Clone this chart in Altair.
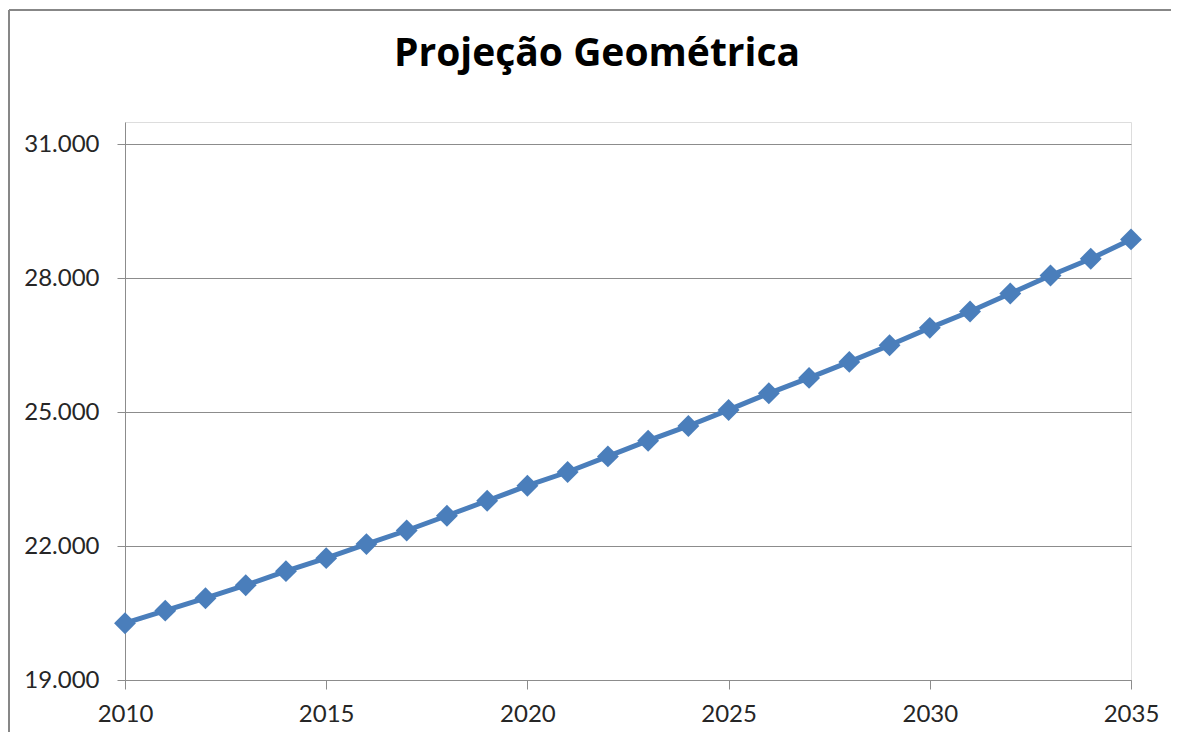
import altair as alt
import pandas as pd

years = [2010, 2011, 2012, 2013, 2014, 2015, 2016, 2017, 2018, 2019, 2020, 2021, 2022,
         2023, 2024, 2025, 2026, 2027, 2028, 2029, 2030, 2031, 2032, 2033, 2034, 2035]
population = [20272, 20554, 20833, 21124, 21438, 21730, 22044, 22349, 22679, 23015,
              23352, 23659, 24009, 24361, 24691, 25050, 25422, 25768, 26126, 26499,
              26889, 27255, 27659, 28062, 28437, 28870]
y_ticks = [19000, 22000, 25000, 28000, 31000]
x_ticks = [2010, 2015, 2020, 2025, 2030, 2035]
title_text = "Projeção Geométrica"

df = pd.DataFrame({"ano": years, "pop": population})

FONT = "Lato"
BLUE = "#4a7ebb"
GRID = "#8c8c8c"

x_enc = alt.X(
    "ano:Q",
    scale=alt.Scale(domain=[2010, 2035], nice=False, zero=False),
    axis=alt.Axis(
        values=x_ticks, format="d", title=None, grid=False, labelFlush=False,
        domainColor=GRID, tickColor=GRID, tickSize=9, labelPadding=13,
        labelFont=FONT, labelFontSize=24, labelColor="#262626",
    ),
)
y_enc = alt.Y(
    "pop:Q",
    scale=alt.Scale(domain=[19000, 31500], nice=False, zero=False),
    axis=alt.Axis(
        values=y_ticks, title=None, grid=True, gridColor=GRID, gridWidth=1.2,
        labelFlush=False,
        domainColor=GRID, tickColor=GRID, tickSize=8, labelPadding=18,
        labelExpr="replace(format(datum.value, ',.0f'), ',', '.')",
        labelFont=FONT, labelFontSize=24, labelColor="#262626",
    ),
)

line = alt.Chart(df).mark_line(color=BLUE, strokeWidth=5).encode(x=x_enc, y=y_enc)
points = alt.Chart(df).mark_point(
    shape="diamond", filled=True, color=BLUE, opacity=1, size=480
).encode(x="ano:Q", y="pop:Q")

frame_top = alt.Chart(df).mark_rule(color="#878787", strokeWidth=2).encode(
    x=alt.value(-116), x2=alt.value(1200), y=alt.value(-112)
)
frame_left = alt.Chart(df).mark_rule(color="#878787", strokeWidth=2).encode(
    x=alt.value(-116), y=alt.value(-112), y2=alt.value(700)
)

chart = (
    alt.layer(frame_top, frame_left, line, points)
    .properties(
        width=1006,
        height=558,
        autosize=alt.AutoSizeParams(type="none"),
        padding={"left": 117, "top": 114, "right": 40, "bottom": 52},
        title=alt.TitleParams(
            text=title_text, font="Open Sans", fontSize=39, fontWeight="bold",
            color="#000000", anchor="middle", dx=-31, offset=-96,
            baseline="alphabetic",
        ),
    )
    .configure_view(stroke=None)
    .configure(background="white")
)

chart.save("out.html", embed_options={"renderer": "svg", "actions": False})
